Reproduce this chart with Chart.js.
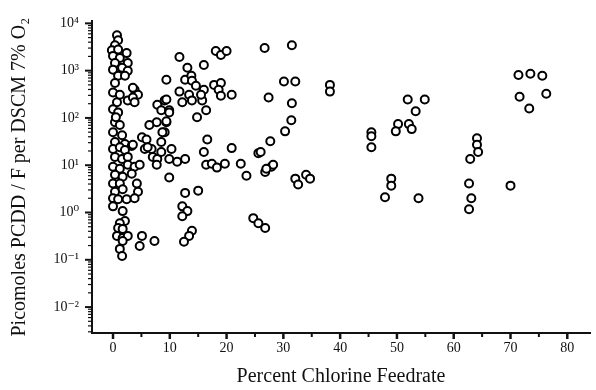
<!DOCTYPE html>
<html>
<head>
<meta charset="utf-8">
<script src="https://cdn.jsdelivr.net/npm/chart.js@4/dist/chart.umd.min.js"></script>
<style>
  body { margin: 0; background: #fff; }
</style>
</head>
<body>
<canvas id="myChart" width="596" height="390"></canvas>
<script>
// percent chlorine in the feed, one entry per test run
var pctChlorine = [
  0.7, 0.9, 0.35, -0.2, 0.9, 2.4, 0, 1.2, 0.35, 2.6,
  1.6, 0, 2.6, 0.9, 2.1, 0.35, 0, 0.7, 0, 0.9,
  0.35, 1.2, 0, 1.6, 0.35, 2.1, 3.3, 2.6, 3.8, 4.4,
  3.5, 3.8, 3.5, 0, 1.2, 2.1, 3.5, 0.35, 1.6, 2.6,
  0, 1.2, 2.6, 3.8, 4.7, 0.35, 1.7, 3.3, 0, 1.2,
  4.2, 0.35, 1.7, 4.4, 0, 0.9, 2.4, 3.8, 0, 1.7,
  2.1, 1.2, 0.9, 1.7, 0.7, 1.7, 2.6, 1.7, 1.2, 1.6,
  5.1, 4.7, 7.3, 0.5, 1.2,
  5.6, 6.8, 7.0, 7.8, 8.5, 7.7, 5.1, 5.9, 6.1, 8.5,
  10.3, 7.7, 6.4, 9.4, 9.1, 7.8, 9.1, 8.5, 9.9, 9.4,
  9.4, 9.9, 9.4, 8.7, 9.9, 9.9, 11.3, 12.7, 12.7, 15.0,
  12.2, 13.1, 12.2, 13.9, 13.4, 12.5,
  11.7, 18.1, 19.0, 20.0, 16.0, 13.1, 12.7, 13.8, 13.9, 17.8,
  19.0, 18.6, 19.0, 20.9, 14.6, 16.0, 11.7, 13.4, 12.2, 13.9,
  15.7, 15.5, 16.4, 14.8, 16.6, 20.9, 16.0, 16.4, 17.4, 18.3,
  19.7, 22.5, 23.5, 25.6, 27.7, 26.8, 27.9, 28.2, 27.0, 24.7,
  25.6, 26.8,
  26.7, 31.5, 30.1, 32.1, 38.2, 38.2, 27.4, 31.5, 31.4, 30.3,
  26.0, 32.1, 32.6, 34.0, 34.7,
  45.5, 45.5, 45.5, 51.9, 54.9, 53.3, 50.2, 49.8, 52.1, 52.6,
  49.0, 49.0, 47.9, 53.8,
  64.1, 64.1, 64.3, 62.9, 62.7, 63.1, 62.7, 70.0,
  71.4, 73.5, 75.6, 71.6, 76.3, 73.3
];

// picomoles PCDD/F per DSCM at 7% O2, same order as above
var picomoles = [
  5600, 4400, 3450, 2700, 2800, 2350, 2050, 1850, 1450, 1450,
  1150, 1050, 990, 780, 780, 550, 345, 215, 152, 131,
  81, 71, 50, 43, 31, 28, 25.5, 235, 395, 310,
  270, 215, 435, 22, 24, 21, 27, 15, 13.5, 15,
  9.3, 8.4, 10.2, 9.3, 10.2, 6.3, 5.7, 6.6, 4.1, 4.1,
  4.1, 2.75, 3.1, 2.75, 2.0, 1.9, 1.9, 2.0, 1.35, 1.07,
  0.66, 0.59, 0.47, 0.45, 0.32, 0.29, 0.32, 0.25, 0.17, 0.12,
  0.32, 0.195, 0.25, 103, 310,
  22, 22, 15, 13.5, 19, 10.2, 39, 35, 24, 31,
  22, 81, 71, 81, 50, 190, 235, 145, 145, 640,
  245, 131, 85, 50, 5.5, 13.5, 11.8, 13.5, 2.6, 2.9,
  1.35, 1.07, 0.83, 0.41, 0.32, 0.24,
  1950, 2600, 2150, 2600, 1320, 1150, 640, 780, 610, 500,
  550, 395, 295, 310, 480, 395, 360, 310, 215, 235,
  235, 310, 145, 103, 35, 23, 19, 10.2, 10.7, 8.9,
  10.7, 10.7, 6.0, 18, 32, 7.2, 9.3, 10.2, 8.4, 0.76,
  0.59, 0.47,
  3000, 3450, 590, 590, 500, 360, 270, 205, 89, 52,
  19, 5.2, 3.9, 6.3, 5.2,
  50, 41, 24, 245, 245, 138, 74, 52, 74, 58,
  5.2, 3.7, 2.1, 2.0,
  37, 27, 19, 13.5, 4.1, 2.0, 1.17, 3.7,
  810, 860, 780, 280, 325, 158
];

var xTicks = [0, 5, 10, 15, 20, 25, 30, 35, 40, 45, 50, 55, 60, 65, 70, 75, 80];
var xTickLabels = ['0', '', '10', '', '20', '', '30', '', '40', '', '50', '', '60', '', '70', '', '80'];
var yDecades = [0.01, 0.1, 1, 10, 100, 1000, 10000];
var yTickLabels = ['10\u207B\u00B2', '10\u207B\u00B9', '10\u2070', '10\u00B9', '10\u00B2', '10\u00B3', '10\u2074'];

var points = pctChlorine.map(function (x, i) { return { x: x, y: picomoles[i] }; });

// log ticks: every decade plus 2..9 within it
var yTicks = [];
yDecades.forEach(function (d, i) {
  yTicks.push({ value: d, major: true });
  if (i < yDecades.length - 1) {
    for (var m = 2; m <= 9; m++) yTicks.push({ value: d * m, major: false });
  }
});
for (var m = 3; m <= 9; m++) yTicks.push({ value: 0.001 * m, major: false });

// short tick marks drawn outside the plot, longer for labelled ones
var tickMarks = {
  id: 'tickMarks',
  afterDraw: function (chart) {
    var c = chart.ctx;
    var xs = chart.scales.x, ys = chart.scales.y;
    c.save();
    c.strokeStyle = '#111';
    xs.ticks.forEach(function (t, i) {
      var px = xs.getPixelForValue(t.value);
      var big = xTickLabels[i] !== '';
      c.lineWidth = big ? 2.5 : 2;
      c.beginPath();
      c.moveTo(px, xs.top);
      c.lineTo(px, xs.top + (big ? 6 : 4));
      c.stroke();
    });
    ys.ticks.forEach(function (t) {
      var py = ys.getPixelForValue(t.value);
      c.lineWidth = t.major ? 2 : 1.2;
      c.beginPath();
      c.moveTo(ys.right, py);
      c.lineTo(ys.right - (t.major ? 7 : 4), py);
      c.stroke();
    });
    c.restore();
  }
};

var serif = "'Liberation Serif', 'DejaVu Serif', serif";

var ctx = document.getElementById('myChart').getContext('2d');
var myChart = new Chart(ctx, {
  type: 'scatter',
  data: {
    datasets: [{
      data: points,
      pointStyle: 'circle',
      pointRadius: 4,
      pointBorderWidth: 2,
      pointBorderColor: '#000',
      pointBackgroundColor: '#fff'
    }]
  },
  options: {
    responsive: false,
    animation: false,
    devicePixelRatio: 1,
    layout: { padding: { top: 18, right: 0, left: 0, bottom: 0 } },
    plugins: {
      legend: { display: false },
      tooltip: { enabled: false }
    },
    scales: {
      x: {
        type: 'linear',
        min: -3.7,
        max: 84,
        afterBuildTicks: function (scale) {
          scale.ticks = xTicks.map(function (v) { return { value: v }; });
        },
        afterFit: function (scale) { scale.height = 57; },
        grid: { display: false, drawTicks: false },
        border: { display: true, color: '#111', width: 2 },
        ticks: {
          autoSkip: false,
          maxRotation: 0,
          padding: 7,
          color: '#111',
          font: { family: serif, size: 14 },
          callback: function (v, i) { return xTickLabels[i]; }
        },
        title: {
          display: true,
          text: 'Percent Chlorine Feedrate',
          color: '#111',
          font: { family: serif, size: 20 },
          padding: { top: 0, bottom: 1 }
        }
      },
      y: {
        type: 'logarithmic',
        min: 0.00283,
        max: 11000,
        afterBuildTicks: function (scale) {
          scale.ticks = yTicks.slice();
        },
        afterFit: function (scale) { scale.width = 92; },
        grid: { display: false, drawTicks: false },
        border: { display: true, color: '#111', width: 2 },
        ticks: {
          autoSkip: false,
          padding: 13,
          color: '#111',
          font: { family: serif, size: 14 },
          callback: function (v) {
            var k = yDecades.indexOf(v);
            return k >= 0 ? yTickLabels[k] : '';
          }
        },
        title: {
          display: true,
          text: 'Picomoles PCDD / F per DSCM 7% O\u2082',
          color: '#111',
          font: { family: serif, size: 20 },
          padding: { top: 8, bottom: 0 }
        }
      }
    }
  },
  plugins: [tickMarks]
});
</script>
</body>
</html>
